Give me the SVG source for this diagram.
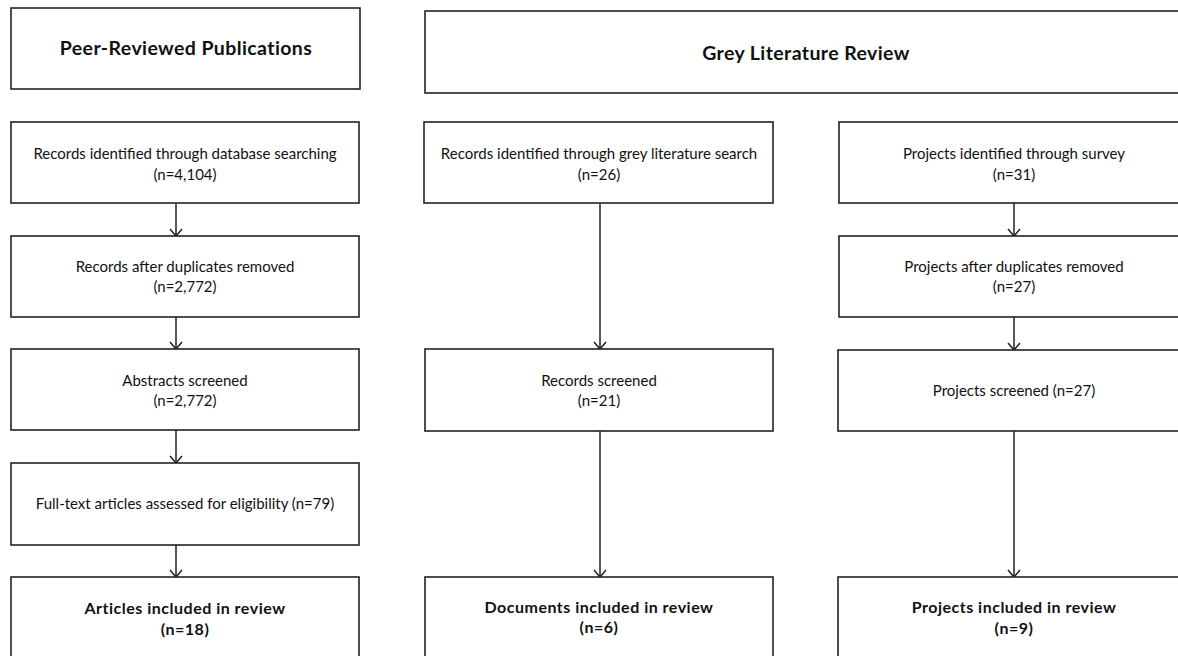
<svg xmlns="http://www.w3.org/2000/svg" width="1178" height="656" viewBox="0 0 1178 656">
<defs>
<style>
.box{fill:#fff;stroke:#222;stroke-width:1.6}
.t{font-family:Lato,"Liberation Sans",sans-serif;font-size:15px;fill:#111;text-anchor:middle}
.b{font-weight:bold;font-size:16px;letter-spacing:0.5px}
.h{font-weight:bold;font-size:19.5px;letter-spacing:0.4px}
.c{stroke:#222;stroke-width:1.5;fill:none}
</style>
<marker id="ah" markerWidth="10" markerHeight="14" refX="8" refY="7" orient="auto" markerUnits="userSpaceOnUse" viewBox="0 0 10 14">
<path d="M1,1 L8,7 L1,13" fill="none" stroke="#222" stroke-width="1.5"/>
</marker>
</defs>
<rect width="1178" height="656" fill="#fff"/>
<g id="connectors">
<line class="c" x1="176" y1="203" x2="176" y2="236" marker-end="url(#ah)"/>
<line class="c" x1="176" y1="317" x2="176" y2="349" marker-end="url(#ah)"/>
<line class="c" x1="176" y1="430" x2="176" y2="463" marker-end="url(#ah)"/>
<line class="c" x1="176" y1="545" x2="176" y2="577" marker-end="url(#ah)"/>
<line class="c" x1="600" y1="203" x2="600" y2="349" marker-end="url(#ah)"/>
<line class="c" x1="600" y1="431" x2="600" y2="577" marker-end="url(#ah)"/>
<line class="c" x1="1014" y1="203" x2="1014" y2="236" marker-end="url(#ah)"/>
<line class="c" x1="1014" y1="317" x2="1014" y2="350" marker-end="url(#ah)"/>
<line class="c" x1="1014" y1="431" x2="1014" y2="577" marker-end="url(#ah)"/>
</g>
<g id="n-peer"><rect class="box" x="11" y="8" width="349" height="81"/><text class="t h" x="186" y="55">Peer-Reviewed Publications</text></g>
<g id="n-grey"><rect class="box" x="425" y="11" width="762" height="82"/><text class="t h" x="806" y="60">Grey Literature Review</text></g>
<g id="n-db"><rect class="box" x="11" y="122" width="348" height="81"/><text class="t" x="185" y="159">Records identified through database searching</text><text class="t" x="185" y="180">(n=4,104)</text></g>
<g id="n-dup"><rect class="box" x="11" y="236" width="348" height="81"/><text class="t" x="185" y="272">Records after duplicates removed</text><text class="t" x="185" y="292">(n=2,772)</text></g>
<g id="n-abs"><rect class="box" x="11" y="349" width="348" height="81"/><text class="t" x="185" y="386">Abstracts screened</text><text class="t" x="185" y="406">(n=2,772)</text></g>
<g id="n-full"><rect class="box" x="11" y="463" width="348" height="82"/><text class="t" x="185" y="509">Full-text articles assessed for eligibility (n=79)</text></g>
<g id="n-art"><rect class="box" x="11" y="577" width="348" height="82"/><text class="t b" x="185" y="614">Articles included in review</text><text class="t b" x="185" y="635">(n=18)</text></g>
<g id="n-greysearch"><rect class="box" x="424" y="122" width="349" height="81"/><text class="t" x="599" y="159">Records identified through grey literature search</text><text class="t" x="599" y="180">(n=26)</text></g>
<g id="n-recscr"><rect class="box" x="425" y="349" width="348" height="82"/><text class="t" x="599" y="386">Records screened</text><text class="t" x="599" y="406">(n=21)</text></g>
<g id="n-docs"><rect class="box" x="425" y="577" width="348" height="82"/><text class="t b" x="599" y="613">Documents included in review</text><text class="t b" x="599" y="633">(n=6)</text></g>
<g id="n-survey"><rect class="box" x="839" y="122" width="350" height="81"/><text class="t" x="1014" y="159">Projects identified through survey</text><text class="t" x="1014" y="180">(n=31)</text></g>
<g id="n-pdup"><rect class="box" x="839" y="236" width="350" height="81"/><text class="t" x="1014" y="272">Projects after duplicates removed</text><text class="t" x="1014" y="292">(n=27)</text></g>
<g id="n-pscr"><rect class="box" x="838" y="350" width="351" height="81"/><text class="t" x="1014" y="396">Projects screened (n=27)</text></g>
<g id="n-pinc"><rect class="box" x="838" y="577" width="351" height="82"/><text class="t b" x="1014" y="613">Projects included in review</text><text class="t b" x="1014" y="634">(n=9)</text></g>
</svg>
